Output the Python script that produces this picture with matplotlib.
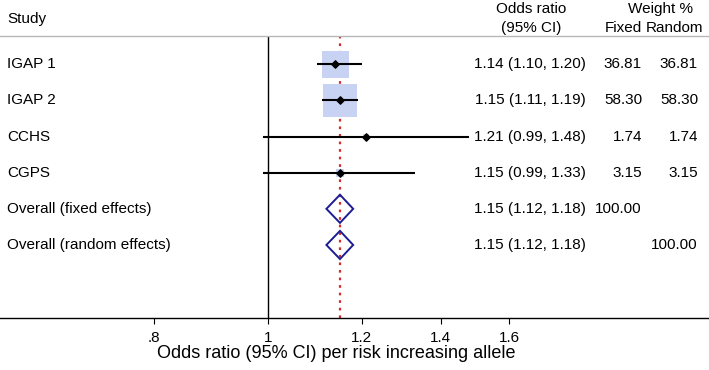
import numpy as np
import matplotlib
matplotlib.use("Agg")
import matplotlib.pyplot as plt
from matplotlib.patches import Polygon

plt.rcParams['font.family'] = ['Liberation Sans', 'DejaVu Sans']

studies = ["IGAP 1", "IGAP 2", "CCHS", "CGPS"]
or_est = [1.14, 1.15, 1.21, 1.15]
ci_lo = [1.10, 1.11, 0.99, 0.99]
ci_hi = [1.20, 1.19, 1.48, 1.33]
w_fixed = [36.81, 58.30, 1.74, 3.15]
w_random = [36.81, 58.30, 1.74, 3.15]

overall_labels = ["Overall (fixed effects)", "Overall (random effects)"]
overall_est = [1.15, 1.15]
overall_lo = [1.12, 1.12]
overall_hi = [1.18, 1.18]
overall_wf = ["100.00", ""]
overall_wr = ["", "100.00"]

xticks = [0.8, 1.0, 1.2, 1.4, 1.6]
xticklabels = [".8", "1", "1.2", "1.4", "1.6"]

W, H = 709, 370
fig = plt.figure(figsize=(W / 100, H / 100), dpi=100)
top_px, bot_px = 36, 318.3
ax = fig.add_axes([0, (H - bot_px) / H, 1, (bot_px - top_px) / H])
ax.set_xscale('log')
ax.set_xlim(0.5928, 2.361)
ax.set_ylim(8.03, 0.217)

for s in ['left', 'right']:
    ax.spines[s].set_visible(False)
ax.spines['top'].set_color('#b8b8b8')
ax.spines['top'].set_linewidth(1.0)
ax.spines['bottom'].set_linewidth(1.0)

ax.set_xticks(xticks)
ax.set_xticklabels(xticklabels, fontsize=11)
ax.xaxis.set_minor_locator(matplotlib.ticker.NullLocator())
ax.tick_params(axis='x', direction='out', length=4.5, width=0.8, pad=4.5)
ax.set_yticks([])

# reference lines
ax.axvline(1.0, color='black', lw=1.0, zorder=1)
ax.axvline(overall_est[0], color='#d42a2a', lw=1.6, ls=(0, (1.2, 2.2)), zorder=2)

rows = np.arange(1, len(studies) + 1)
ax.scatter(or_est, rows, s=[10 * w for w in w_fixed], marker='s',
           color='#c8d3f4', edgecolors='none', zorder=3)
ax.hlines(rows, ci_lo, ci_hi, color='black', lw=1.5, zorder=4)
ax.scatter(or_est, rows, s=14, marker='D', color='black', zorder=5)

for i in range(len(overall_est)):
    y = len(studies) + 1 + i
    poly = Polygon([[overall_lo[i], y], [overall_est[i], y - 0.39],
                    [overall_hi[i], y], [overall_est[i], y + 0.39]],
                   closed=True, fill=False, edgecolor='#1c1c94', lw=1.4, zorder=4)
    ax.add_patch(poly)

tr = ax.get_yaxis_transform()
fs = 11
all_labels = studies + overall_labels
all_est = or_est + overall_est
all_lo = ci_lo + overall_lo
all_hi = ci_hi + overall_hi
all_wf = ["%.2f" % w for w in w_fixed] + overall_wf
all_wr = ["%.2f" % w for w in w_random] + overall_wr
for i, lab in enumerate(all_labels):
    y = i + 1
    ax.text(7 / W, y, lab, transform=tr, fontsize=fs, ha='left', va='center')
    ax.text(586 / W, y, "%.2f (%.2f, %.2f)" % (all_est[i], all_lo[i], all_hi[i]),
            transform=tr, fontsize=fs, ha='right', va='center')
    ax.text(642 / W, y, all_wf[i], transform=tr, fontsize=fs, ha='right', va='center')
    ax.text(698 / W, y, all_wr[i], transform=tr, fontsize=fs, ha='right', va='center')

def ftext(x, y, s, **kw):
    fig.text(x / W, 1 - y / H, s, fontsize=fs, va='center', **kw)

ftext(7, 19, "Study", ha='left')
ftext(531, 9, "Odds ratio", ha='center')
ftext(531, 28, "(95% CI)", ha='center')
ftext(660, 9, "Weight %", ha='center')
ftext(642, 28, "Fixed", ha='right')
ftext(646, 28, "Random", ha='left')

fig.text(336 / W, 1 - 353 / H, "Odds ratio (95% CI) per risk increasing allele",
         fontsize=13, ha='center', va='center')

fig.savefig("out.png", dpi=100)
